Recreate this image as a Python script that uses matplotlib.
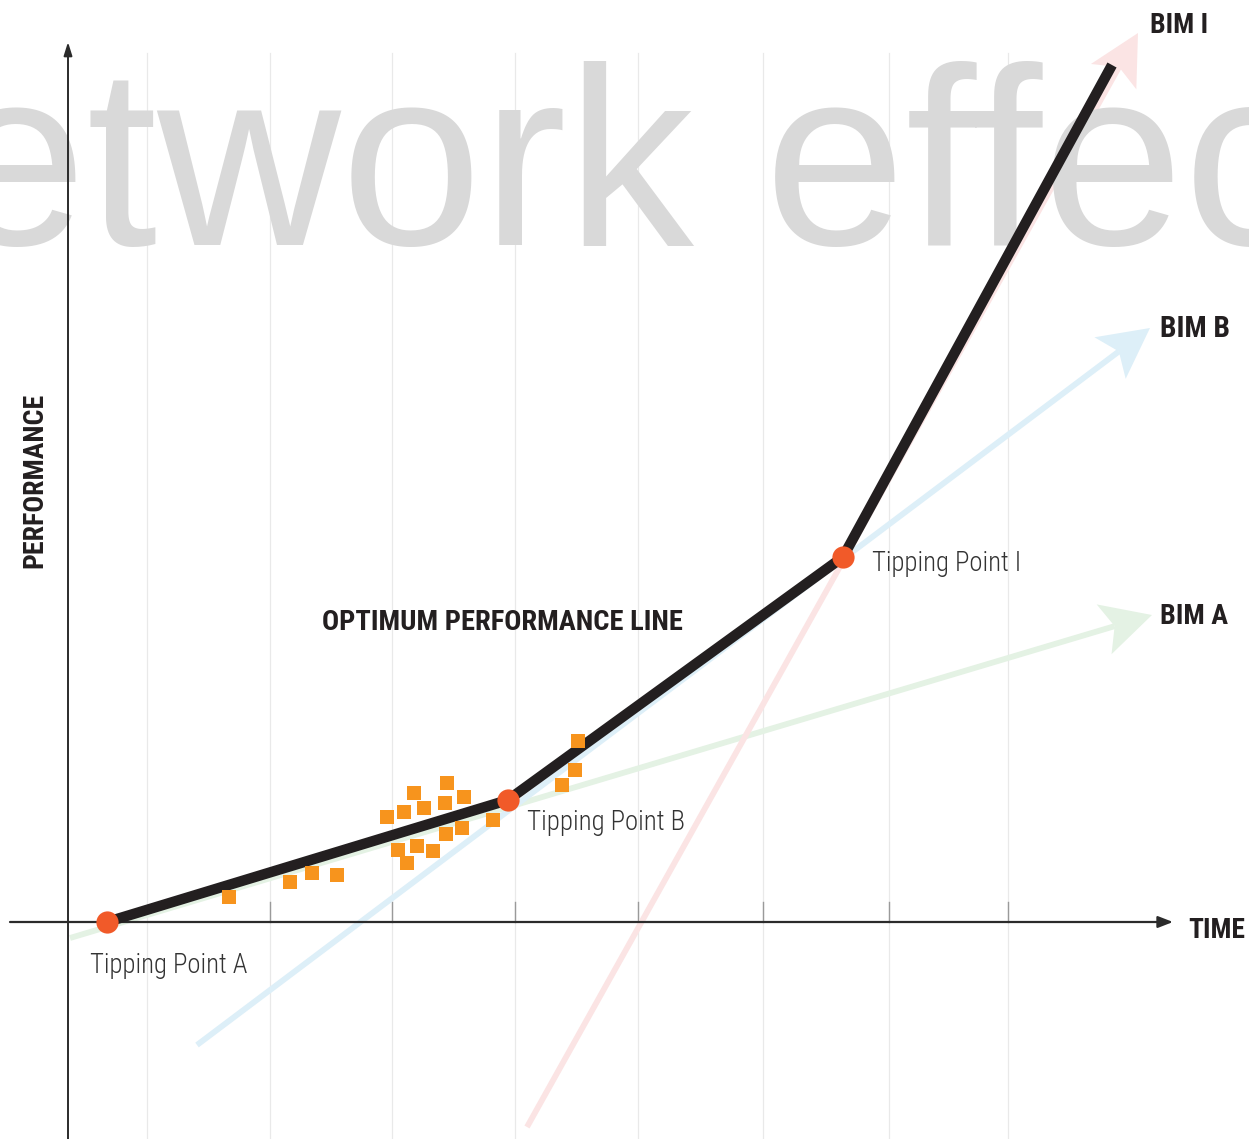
import matplotlib
matplotlib.use("Agg")
import matplotlib.pyplot as plt
import matplotlib.font_manager as fm
import numpy as np

# values (x = time, y = performance, 1 unit ~ 1 px)
GRID_X = [79, 202, 324, 447, 570, 695, 821, 940]
TICK_X = [202, 324, 447, 570, 695, 821, 940]

OPT_X = [39, 440, 775, 1044]
OPT_Y = [0, 122, 365, 857]

TIP_NAMES = ["Tipping Point A", "Tipping Point B", "Tipping Point I"]
TIP_X = [39, 440, 775]
TIP_Y = [0, 122, 365]

BIM_NAMES = ["BIM A", "BIM B", "BIM I"]
BIM_START = [(2, -16), (129, -123), (459, -205)]
BIM_END = [(1084, 307), (1082, 594), (1070, 889)]
BIM_COLORS = ["#E4F2E4", "#DDEFF8", "#FBE4E4"]

SQ_X = [161, 222, 244, 269, 319, 336, 346, 356, 379, 377, 396,
        330, 349, 339, 365, 378, 394, 425, 494, 507, 510]
SQ_Y = [25, 40, 49, 47, 105, 110, 129, 114, 139, 119, 125,
        72, 76, 59, 71, 88, 94, 102, 137, 152, 181]

names = {f.name for f in fm.fontManager.ttflist}


def pick(cands, default="DejaVu Sans"):
    for c in cands:
        if c in names:
            return c
    return default


COND = pick(["Roboto Condensed", "Open Sans Condensed", "Liberation Sans Narrow",
             "Arial Narrow", "Roboto"])
LIGHT = pick(["Roboto Condensed", "Roboto", "Open Sans", "Lato"])
WIDE = pick(["Liberation Sans"])

fig = plt.figure(figsize=(12.49, 11.39), dpi=100)
ax = fig.add_axes([0, 0, 1, 1])
ax.set_xlim(-68, 1181)
ax.set_ylim(-217, 922)
ax.axis("off")
renderer = fig.canvas.get_renderer()


def fit_text(x, y, s, width, vertical=False, **kw):
    """放一段文字，并按参考图中的宽度缩放字号。"""
    t = ax.text(x, y, s, **kw)
    bb = t.get_window_extent(renderer)
    cur = bb.height if vertical else bb.width
    t.set_fontsize(t.get_fontsize() * width / cur)
    return t


# grid + ticks
for gx in GRID_X:
    ax.plot([gx, gx], [-217, 869], color="#E9E9E9", lw=0.9, zorder=1)
for tx in TICK_X:
    ax.plot([tx, tx], [0, 20], color="#9A9A9A", lw=1.0, zorder=2)


def bim_arrow(start, end, color):
    p0 = np.array(start, dtype=float)
    p1 = np.array(end, dtype=float)
    u = (p1 - p0) / np.hypot(*(p1 - p0))
    n = np.array([-u[1], u[0]])
    L, W, notch = 50, 26, 11
    back = p1 - (L - notch) * u
    ax.plot([p0[0], back[0]], [p0[1], back[1]], color=color, lw=4.2,
            solid_capstyle="butt", zorder=2)
    head = np.array([p1, p1 - L * u + W * n, back, p1 - L * u - W * n])
    ax.fill(head[:, 0], head[:, 1], color=color, lw=0, zorder=2)


for s, e, c in zip(BIM_START, BIM_END, BIM_COLORS):
    bim_arrow(s, e, c)

# watermark
ax.text(-264, 677, "network effect", fontsize=183, family=WIDE,
        color="#D9D9D9", ha="left", va="baseline", zorder=3)

# axes with arrows
ax.annotate("", xy=(0, 880), xytext=(0, -217),
            arrowprops=dict(arrowstyle="-|>,head_length=0.8,head_width=0.25",
                            color="#2B2B2B", lw=1.4, shrinkA=0, shrinkB=0),
            zorder=4)
ax.annotate("", xy=(1105, 0), xytext=(-58, 0),
            arrowprops=dict(arrowstyle="-|>,head_length=0.9,head_width=0.35",
                            color="#2B2B2B", lw=1.6, shrinkA=0, shrinkB=0),
            zorder=4)

# optimum line, squares, tipping points
ax.plot(OPT_X, OPT_Y, color="#231F20", lw=7.5, solid_capstyle="butt",
        solid_joinstyle="round", zorder=5)
ax.plot(SQ_X, SQ_Y, "s", color="#F7941D", ms=9.5, mew=0, zorder=6)
ax.plot(TIP_X, TIP_Y, "o", color="#F15A29", ms=16, mew=0, zorder=7)

# labels
tip_offsets = [(-17, -51), (19, -30), (29, -14)]
tip_widths = [158, 158, 150]
for name, x, y, (dx, dy), w in zip(TIP_NAMES, TIP_X, TIP_Y, tip_offsets, tip_widths):
    fit_text(x + dx, y + dy, name, w, fontsize=20, family=LIGHT,
             fontweight="light", color="#333333", ha="left", va="baseline",
             zorder=8)

bim_label_pos = [(1092, 298), (1092, 585), (1082, 889)]
bim_widths = [68, 70, 58]
for name, (lx, ly), w in zip(BIM_NAMES, bim_label_pos, bim_widths):
    fit_text(lx, ly, name, w, fontsize=21.5, family=COND, fontweight="bold",
             color="#231F20", ha="left", va="baseline", zorder=8)

fit_text(1120, -16, "TIME", 57, fontsize=21.5, family=COND, fontweight="bold",
         color="#231F20", ha="left", va="baseline", zorder=8)
fit_text(-33, 442, "PERFORMANCE", 175, vertical=True, fontsize=19.5,
         family=COND, fontweight="bold", color="#231F20", rotation=90,
         ha="center", va="center", zorder=8)
fit_text(254, 292, "OPTIMUM PERFORMANCE LINE", 361, fontsize=20.5,
         family=COND, fontweight="bold", color="#231F20", ha="left",
         va="baseline", zorder=8)

fig.savefig("out.png", dpi=100)
